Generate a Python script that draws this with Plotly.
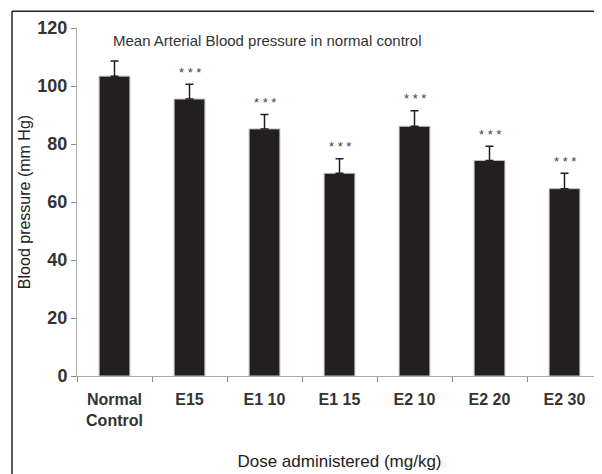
import plotly.graph_objects as go

categories = ["Normal<br>Control", "E15", "E1 10", "E1 15", "E2 10", "E2 20", "E2 30"]
values = [103.4, 95.5, 85.2, 69.9, 86.1, 74.3, 64.6]
errors = [5.2, 5.1, 5.0, 5.0, 5.4, 4.9, 5.3]
significance = ["", "* * *", "* * *", "* * *", "* * *", "* * *", "* * *"]
y_ticks = [0, 20, 40, 60, 80, 100, 120]

FONT = "Liberation Sans, Arial, sans-serif"

fig = go.Figure()
fig.add_trace(go.Bar(
    x=categories, y=values,
    width=0.41,
    marker=dict(color="#231f20", line=dict(color="#bdbdbd", width=1)),
    error_y=dict(type="data", symmetric=False, array=errors,
                 arrayminus=[0] * len(errors),
                 color="#231f20", thickness=1.5, width=4),
    showlegend=False,
))

for c, v, e, s in zip(categories, values, errors, significance):
    if s:
        fig.add_annotation(x=c, y=v + e, text=s, showarrow=False,
                           yshift=12, font=dict(family=FONT, size=13, color="#444"))

fig.add_annotation(xref="paper", yref="paper", x=0.361, y=0.965,
                   text="Mean Arterial Blood pressure in normal control",
                   showarrow=False, xanchor="center", yanchor="middle",
                   font=dict(family=FONT, size=15, color="#333"))

# frame lines (top and left)
fig.add_shape(type="line", xref="paper", yref="paper",
              x0=-0.1238, x1=1.02, y0=1.048, y1=1.048,
              line=dict(color="#222", width=1.5))
fig.add_shape(type="line", xref="paper", yref="paper",
              x0=-0.1238, x1=-0.1238, y0=1.048, y1=-0.29,
              line=dict(color="#222", width=1.5))

fig.update_layout(
    width=594, height=466,
    margin=dict(l=69, r=0, t=20, b=98),
    paper_bgcolor="white", plot_bgcolor="white",
    font=dict(family=FONT, color="#333"),
)
fig.update_xaxes(
    type="category",
    showline=True, linecolor="#aaaaaa", linewidth=1,
    ticks="outside", tickson="boundaries", ticklen=5, tickcolor="#888",
    ticklabelstandoff=9,
    tickfont=dict(family=FONT, size=16, color="#333", weight="bold"),
    title=dict(text="Dose administered (mg/kg)", standoff=27,
               font=dict(family=FONT, size=17, color="#222")),
    showgrid=False,
)
fig.update_yaxes(
    range=[0, 120], tickvals=y_ticks,
    showline=True, linecolor="#aaaaaa", linewidth=1,
    ticks="outside", ticklen=5, tickcolor="#888",
    tickfont=dict(family=FONT, size=18, color="#333", weight="bold"),
    title=dict(text="Blood pressure (mm Hg)", standoff=2,
               font=dict(family=FONT, size=16, color="#222")),
    showgrid=False, zeroline=False,
)

fig.write_html("out.html")
